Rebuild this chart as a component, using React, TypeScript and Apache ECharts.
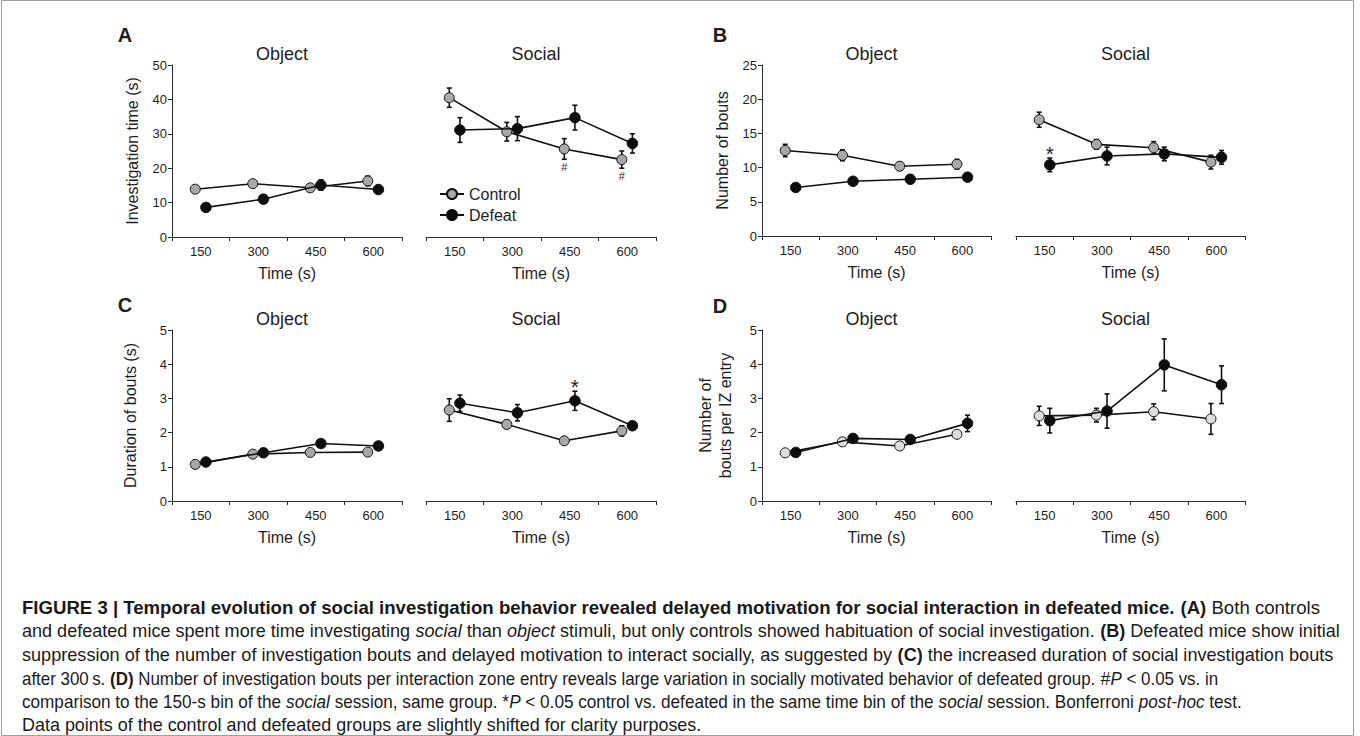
import React, { useEffect, useRef } from "react";
import * as echarts from "echarts";

// ---------- data ----------
const timeBins = ["150", "300", "450", "600"];

// A: Investigation time (s)
const aObjControl = [13.9, 15.5, 14.3, 16.3];
const aObjControlErr = [0.6, 0.7, 0.7, 1.4];
const aObjDefeat = [8.6, 11.0, 15.1, 13.8];
const aObjDefeatErr = [0.6, 0.7, 1.5, 0.8];
const aSocControl = [40.5, 30.6, 25.6, 22.5];
const aSocControlErr = [2.8, 2.7, 3.0, 2.5];
const aSocDefeat = [31.1, 31.5, 34.7, 27.2];
const aSocDefeatErr = [3.6, 3.5, 3.6, 2.8];

// B: Number of bouts
const bObjControl = [12.5, 11.8, 10.2, 10.5];
const bObjControlErr = [0.9, 0.8, 0.6, 0.7];
const bObjDefeat = [7.1, 8.0, 8.3, 8.6];
const bObjDefeatErr = [0.4, 0.4, 0.6, 0.4];
const bSocControl = [17.0, 13.4, 12.9, 10.8];
const bSocControlErr = [1.1, 0.7, 0.9, 1.0];
const bSocDefeat = [10.4, 11.7, 12.0, 11.5];
const bSocDefeatErr = [1.0, 1.3, 1.0, 1.0];

// C: Duration of bouts (s)
const cObjControl = [1.07, 1.37, 1.42, 1.43];
const cObjControlErr = [0.05, 0.05, 0.05, 0.05];
const cObjDefeat = [1.14, 1.41, 1.68, 1.61];
const cObjDefeatErr = [0.06, 0.06, 0.07, 0.06];
const cSocControl = [2.66, 2.24, 1.76, 2.05];
const cSocControlErr = [0.33, 0.12, 0.06, 0.15];
const cSocDefeat = [2.86, 2.58, 2.93, 2.2];
const cSocDefeatErr = [0.24, 0.24, 0.28, 0.12];

// D: Number of bouts per IZ entry
const dObjControl = [1.41, 1.73, 1.61, 1.95];
const dObjControlErr = [0.05, 0.06, 0.05, 0.07];
const dObjDefeat = [1.42, 1.83, 1.8, 2.27];
const dObjDefeatErr = [0.06, 0.1, 0.08, 0.24];
const dSocControl = [2.49, 2.51, 2.61, 2.4];
const dSocControlErr = [0.28, 0.2, 0.23, 0.45];
const dSocDefeat = [2.35, 2.63, 3.98, 3.4];
const dSocDefeatErr = [0.36, 0.5, 0.76, 0.55];

// significance marks: panel index, group, bin, symbol
const marks = [
  { panel: 1, group: "control", bin: 2, text: "#" },
  { panel: 1, group: "control", bin: 3, text: "#" },
  { panel: 3, group: "defeat", bin: 0, text: "*" },
  { panel: 5, group: "defeat", bin: 2, text: "*" },
];

const captionLines: [string, string][][] = [
  [
    ["b", "FIGURE 3 | Temporal evolution of social investigation behavior revealed delayed motivation for social interaction in defeated mice."],
    ["b", " (A)"],
    ["n", " Both controls"],
  ],
  [
    ["n", "and defeated mice spent more time investigating "],
    ["i", "social"],
    ["n", " than "],
    ["i", "object"],
    ["n", " stimuli, but only controls showed habituation of social investigation. "],
    ["b", "(B)"],
    ["n", " Defeated mice show initial"],
  ],
  [
    ["n", "suppression of the number of investigation bouts and delayed motivation to interact socially, as suggested by "],
    ["b", "(C)"],
    ["n", " the increased duration of social investigation bouts"],
  ],
  [
    ["n", "after 300\u2009s. "],
    ["b", "(D)"],
    ["n", " Number of investigation bouts per interaction zone entry reveals large variation in socially motivated behavior of defeated group. "],
    ["h", "#"],
    ["i", "P"],
    ["n", " < 0.05 vs. in"],
  ],
  [
    ["n", "comparison to the 150-s bin of the "],
    ["i", "social"],
    ["n", " session, same group. *"],
    ["i", "P"],
    ["n", " < 0.05 control vs. defeated in the same time bin of the "],
    ["i", "social"],
    ["n", " session. Bonferroni "],
    ["i", "post-hoc"],
    ["n", " test."],
  ],
  [["n", "Data points of the control and defeated groups are slightly shifted for clarity purposes."]],
];
// right end (px) of each caption line in the reference
const captionLineEnds = [1320, 1340, 1333, 1218, 1242, 702];

// ---------- layout / style ----------
const FONT_NAME = "Liberation Sans";
const FONT = '"Liberation Sans", Arial, Helvetica, sans-serif';
const INK = "#1e1e1e";
const AXIS = "#2a2a2a";
const SHIFT_CONTROL = -0.095;
const SHIFT_DEFEAT = 0.09;

type Panel = {
  left: number; top: number; width: number; height: number;
  yMin: number; yMax: number; yInt: number; showY: boolean;
  yName: string; yNameGap: number; title: string;
  control: number[]; controlErr: number[]; defeat: number[]; defeatErr: number[];
  fill: string;
};

const panels: Panel[] = [
  { left: 172, top: 65, width: 230, height: 172, yMin: 0, yMax: 50, yInt: 10, showY: true, yName: "Investigation time (s)", yNameGap: 30, title: "Object", control: aObjControl, controlErr: aObjControlErr, defeat: aObjDefeat, defeatErr: aObjDefeatErr, fill: "#a8a8a8" },
  { left: 426, top: 65, width: 230, height: 172, yMin: 0, yMax: 50, yInt: 10, showY: false, yName: "", yNameGap: 0, title: "Social", control: aSocControl, controlErr: aSocControlErr, defeat: aSocDefeat, defeatErr: aSocDefeatErr, fill: "#a8a8a8" },
  { left: 762, top: 65, width: 229, height: 171, yMin: 0, yMax: 25, yInt: 5, showY: true, yName: "Number of bouts", yNameGap: 30, title: "Object", control: bObjControl, controlErr: bObjControlErr, defeat: bObjDefeat, defeatErr: bObjDefeatErr, fill: "#a8a8a8" },
  { left: 1016, top: 65, width: 229, height: 171, yMin: 0, yMax: 25, yInt: 5, showY: false, yName: "", yNameGap: 0, title: "Social", control: bSocControl, controlErr: bSocControlErr, defeat: bSocDefeat, defeatErr: bSocDefeatErr, fill: "#a8a8a8" },
  { left: 172, top: 330, width: 230, height: 171, yMin: 0, yMax: 5, yInt: 1, showY: true, yName: "Duration of bouts (s)", yNameGap: 32, title: "Object", control: cObjControl, controlErr: cObjControlErr, defeat: cObjDefeat, defeatErr: cObjDefeatErr, fill: "#a8a8a8" },
  { left: 426, top: 330, width: 230, height: 171, yMin: 0, yMax: 5, yInt: 1, showY: false, yName: "", yNameGap: 0, title: "Social", control: cSocControl, controlErr: cSocControlErr, defeat: cSocDefeat, defeatErr: cSocDefeatErr, fill: "#a8a8a8" },
  { left: 762, top: 330, width: 229, height: 171, yMin: 0, yMax: 5, yInt: 1, showY: true, yName: "Number of\nbouts per IZ entry", yNameGap: 27, title: "Object", control: dObjControl, controlErr: dObjControlErr, defeat: dObjDefeat, defeatErr: dObjDefeatErr, fill: "#dedede" },
  { left: 1016, top: 330, width: 229, height: 171, yMin: 0, yMax: 5, yInt: 1, showY: false, yName: "", yNameGap: 0, title: "Social", control: dSocControl, controlErr: dSocControlErr, defeat: dSocDefeat, defeatErr: dSocDefeatErr, fill: "#dedede" },
];

const panelLetters = [
  { text: "A", x: 125, y: 35 },
  { text: "B", x: 720, y: 35 },
  { text: "C", x: 125, y: 305 },
  { text: "D", x: 720, y: 306 },
];

const CAPTION_X = 22;
const CAPTION_Y = 608;
const CAPTION_STEP = 23.5;
const CAPTION_FS = 17.5;

function segFont(s: string) {
  const style = s === "i" ? "italic " : "";
  const weight = s === "b" ? "bold " : "";
  const size = s === "h" ? CAPTION_FS + 1 : CAPTION_FS;
  return `${style}${weight}${size}px "${FONT_NAME}"`;
}

function measureLine(segs: [string, string][]) {
  const canvas = document.createElement("canvas");
  const ctx = canvas.getContext("2d");
  if (!ctx) return 0;
  let w = 0;
  segs.forEach(([s, t]) => {
    ctx.font = segFont(s);
    w += ctx.measureText(t).width;
  });
  return w;
}

function buildOption() {
  const grid: any[] = [];
  const xAxis: any[] = [];
  const yAxis: any[] = [];
  const lineSeries: any[] = [];
  const customSeries: any[] = [];

  panels.forEach((p, i) => {
    grid.push({ left: p.left, top: p.top, width: p.width, height: p.height });
    xAxis.push({
      type: "category",
      gridIndex: i,
      data: timeBins,
      boundaryGap: true,
      axisLine: { show: true, lineStyle: { color: AXIS, width: 1 } },
      axisTick: { show: true, length: 4, interval: 0, lineStyle: { color: AXIS, width: 1 } },
      axisLabel: { interval: 0, fontSize: 13, color: INK, margin: 8, fontFamily: FONT },
      splitLine: { show: false },
      name: "Time (s)",
      nameLocation: "middle",
      nameGap: 28,
      nameTextStyle: { fontSize: 16, color: INK, fontFamily: FONT },
    });
    xAxis.push({ type: "value", gridIndex: i, min: 0.5, max: 4.5, show: false });
    yAxis.push({
      type: "value",
      gridIndex: i,
      min: p.yMin,
      max: p.yMax,
      interval: p.yInt,
      show: p.showY,
      axisLine: { show: true, lineStyle: { color: AXIS, width: 1 } },
      axisTick: { show: true, length: 4, lineStyle: { color: AXIS, width: 1 } },
      axisLabel: { fontSize: 13, color: INK, margin: 5, fontFamily: FONT },
      splitLine: { show: false },
      name: p.yName,
      nameLocation: "middle",
      nameRotate: 90,
      nameGap: p.yNameGap,
      nameTextStyle: { fontSize: 16, color: INK, fontFamily: FONT, lineHeight: 20 },
    });

    const xv = 2 * i + 1;
    const ctrl = p.control.map((v, k) => [k + 1 + SHIFT_CONTROL, v]);
    const def = p.defeat.map((v, k) => [k + 1 + SHIFT_DEFEAT, v]);

    lineSeries.push({
      type: "line",
      name: "Control",
      xAxisIndex: xv,
      yAxisIndex: i,
      data: ctrl,
      symbol: "circle",
      symbolSize: 10,
      showAllSymbol: true,
      itemStyle: { color: p.fill, borderColor: "#111", borderWidth: 1 },
      lineStyle: { color: "#111", width: 1.6 },
      z: 3,
      silent: true,
    });
    lineSeries.push({
      type: "line",
      name: "Defeat",
      xAxisIndex: xv,
      yAxisIndex: i,
      data: def,
      symbol: "circle",
      symbolSize: 10.5,
      showAllSymbol: true,
      itemStyle: { color: "#0d0d0d", borderColor: "#0d0d0d", borderWidth: 1 },
      lineStyle: { color: "#111", width: 1.6 },
      z: 4,
      silent: true,
    });

    const errSeries = (vals: number[], errs: number[], shift: number) => ({
      type: "custom",
      xAxisIndex: xv,
      yAxisIndex: i,
      data: vals.map((v, k) => [k + 1 + shift, v, errs[k]]),
      encode: { x: 0, y: 1 },
      z: 2,
      silent: true,
      renderItem: (_params: any, api: any) => {
        const x = api.value(0);
        const y = api.value(1);
        const e = api.value(2);
        const hi = api.coord([x, y + e]);
        const lo = api.coord([x, y - e]);
        const st = { stroke: "#111", lineWidth: 1.6 };
        const cap = 2.5;
        return {
          type: "group",
          children: [
            { type: "line", shape: { x1: hi[0], y1: hi[1], x2: lo[0], y2: lo[1] }, style: st },
            { type: "line", shape: { x1: hi[0] - cap, y1: hi[1], x2: hi[0] + cap, y2: hi[1] }, style: st },
            { type: "line", shape: { x1: lo[0] - cap, y1: lo[1], x2: lo[0] + cap, y2: lo[1] }, style: st },
          ],
        };
      },
    });
    customSeries.push(errSeries(p.control, p.controlErr, SHIFT_CONTROL));
    customSeries.push(errSeries(p.defeat, p.defeatErr, SHIFT_DEFEAT));
  });

  marks.forEach((m) => {
    const p = panels[m.panel];
    const isCtrl = m.group === "control";
    const v = isCtrl ? p.control[m.bin] : p.defeat[m.bin];
    const e = isCtrl ? p.controlErr[m.bin] : p.defeatErr[m.bin];
    const x = m.bin + 1 + (isCtrl ? SHIFT_CONTROL : SHIFT_DEFEAT);
    const above = m.text === "*";
    customSeries.push({
      type: "custom",
      xAxisIndex: 2 * m.panel + 1,
      yAxisIndex: m.panel,
      data: [[x, v, e]],
      encode: { x: 0, y: 1 },
      z: 5,
      silent: true,
      renderItem: (_params: any, api: any) => {
        const xx = api.value(0);
        const yy = api.value(1);
        const ee = api.value(2);
        const pt = api.coord([xx, above ? yy + ee : yy - ee]);
        return {
          type: "text",
          x: pt[0],
          y: above ? pt[1] - 5 : pt[1] + 8,
          style: {
            text: m.text,
            fontSize: above ? 21 : 11,
            fontFamily: FONT,
            fill: INK,
            align: "center",
            verticalAlign: "middle",
          },
        };
      },
    });
  });

  const graphic: any[] = [];
  graphic.push({
    type: "rect",
    shape: { x: 1.5, y: 0.5, width: 1352, height: 735 },
    style: { fill: "none", stroke: "#a0a0a0", lineWidth: 1 },
    silent: true,
  });
  panels.forEach((p) => {
    graphic.push({
      type: "text",
      x: p.left + p.width / 2 - 5,
      y: p.top - 11,
      style: { text: p.title, fontSize: 18, fontFamily: FONT, fill: INK, align: "center", verticalAlign: "middle" },
      silent: true,
    });
  });
  panelLetters.forEach((l) => {
    graphic.push({
      type: "text",
      x: l.x,
      y: l.y,
      style: { text: l.text, fontSize: 20, fontWeight: "bold", fontFamily: FONT, fill: INK, align: "center", verticalAlign: "middle" },
      silent: true,
    });
  });

  const base = { fontSize: CAPTION_FS, fontFamily: FONT, fill: "#1a1a1a" };
  const rich = {
    n: { ...base },
    b: { ...base, fontWeight: "bold" },
    i: { ...base, fontStyle: "italic" },
    h: { ...base, fontSize: CAPTION_FS + 1 },
  };
  captionLines.forEach((segs, li) => {
    const w = measureLine(segs);
    const target = captionLineEnds[li] - CAPTION_X;
    const sx = w > 0 ? target / w : 1;
    graphic.push({
      type: "text",
      x: CAPTION_X,
      y: CAPTION_Y + li * CAPTION_STEP,
      scaleX: sx,
      scaleY: 1,
      style: {
        text: segs.map(([s, t]) => `{${s}|${t}}`).join(""),
        rich,
        ...base,
        align: "left",
        verticalAlign: "middle",
      },
      silent: true,
    });
  });

  return {
    animation: false,
    backgroundColor: "#ffffff",
    textStyle: { fontFamily: FONT },
    grid,
    xAxis,
    yAxis,
    legend: {
      data: ["Control", "Defeat"],
      orient: "vertical",
      left: 434,
      top: 181,
      itemWidth: 24,
      itemHeight: 12.5,
      itemGap: 5,
      selectedMode: false,
      textStyle: { fontSize: 16, color: INK, fontFamily: FONT },
    },
    series: [...lineSeries, ...customSeries],
    graphic,
  };
}

export default function App() {
  const ref = useRef<HTMLDivElement>(null);
  useEffect(() => {
    if (!ref.current) return;
    const chart = echarts.init(ref.current, undefined, { renderer: "svg" });
    chart.setOption(buildOption() as any);
    return () => chart.dispose();
  }, []);
  return (
    <div
      ref={ref}
      style={{ position: "absolute", left: 0, top: 0, width: 1360, height: 736, background: "#fff" }}
    />
  );
}
